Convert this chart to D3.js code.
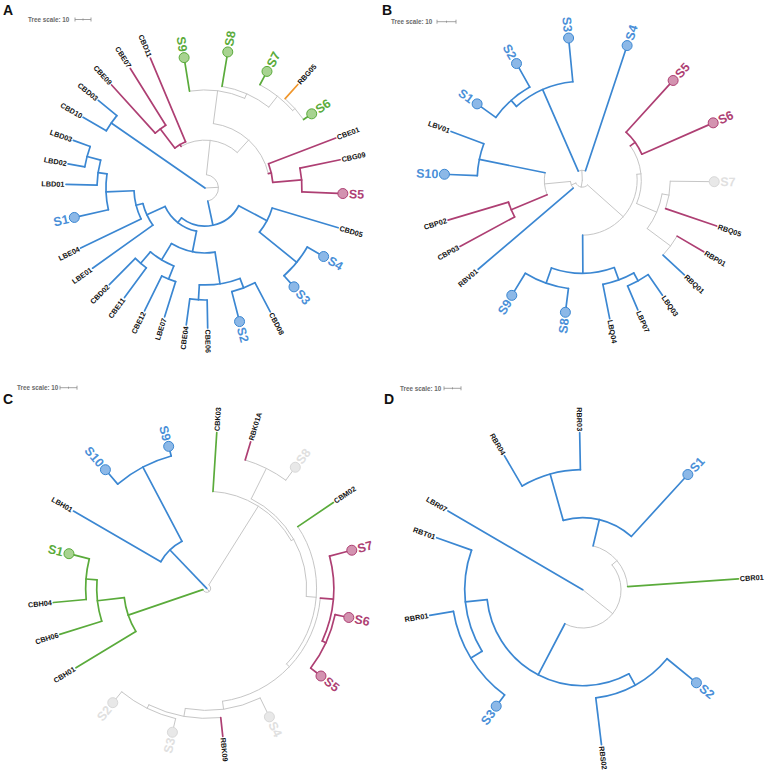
<!DOCTYPE html>
<html>
<head>
<meta charset="utf-8">
<script src="https://cdn.jsdelivr.net/npm/d3@7"></script>
<style>
  body { margin: 0; background: #fff; }
  svg { display: block; }
  text { font-family: "Liberation Sans", Arial, sans-serif; }
</style>
</head>
<body>
<svg></svg>
<script>
let width = 767;
let height = 773;

// ---- panel A : nodes, parent, distance from root (tree units), clade colour key
const aNode   = ["rootA","K","CBD10","CBD03","Rp","T2","M4","M3","CBE09","CBE07","CBD11","T1","Gr","S9","G2","S8","G3","S7","G4","RBG05","S6","M1","CBE01","M2","CBG09","S5","B","B1","CBD05","B1b","S4","S3","B2","B2a","B2a1","Nss","CBD08","S2","Nee","CBE06","CBE04","Nf","Ngh","LBE07","CBE12","Nde","CBE11","CBD02","Na2","LBE01","Na","LBE04","Nb","S1","Nc","LBD01","Nl","LBD02","LBD03"];
const aParent = ["","rootA","K","K","rootA","Rp","T2","M4","M3","M3","M4","T2","T1","Gr","Gr","G2","G2","G3","G3","G4","G4","T1","M1","M1","M2","M2","Rp","B","B1","B1","B1b","B1b","B","B2","B2a","B2a1","Nss","Nss","B2a1","Nee","Nee","B2a","Nf","Ngh","Ngh","Nf","Nde","Nde","B2","Na2","Na2","Na","Na","Nb","Nb","Nc","Nc","Nl","Nl"];
const aDist   = [0,71.3,88.1,86.3,8.4,30,31.3,46.3,86.9,88.1,88.1,40.6,61.3,79.4,64.4,83.1,73.1,79.4,75,86.9,78.1,42.5,87.5,60.6,86.3,83.1,23.8,43.8,86.9,73.8,82.5,80,27.5,40.6,60.6,66.9,87.5,83.1,70,87.5,86.3,52.5,61.3,84.4,85.6,61.9,85,85,40,86.3,44.4,86.3,61.9,80.6,67.5,86.9,76.3,86.9,87.5];
const aClade  = "gbbbggmmmmmggngngngonmmmmmbbbbbbbbbbbbbbbbbbbbbbbbbbbbbbbbb".split("");
const aLeaf    = ["CBD10","CBD03","CBE09","CBE07","CBD11","S9","S8","S7","RBG05","S6","CBE01","CBG09","S5","CBD05","S4","S3","CBD08","S2","CBE06","CBE04","LBE07","CBE12","CBE11","CBD02","LBE01","LBE04","S1","LBD01","LBD02","LBD03"];
const aLeafDeg = [300.1,309.4,317.8,328,337.2,350.9,369.5,388,401.9,415.2,429.1,438.2,452.3,466.6,480,498,512.2,525.5,538.9,547.8,557.4,566.2,576.3,584.7,594.5,604.2,617.3,631.5,640,649.9];

// ---- panel B
const bNode   = ["rootB","Z1","P","Q","S1","S2","S3","S4","Z2","X3","X1","Mg","S5","S6","X2","X2a","S7","RBQ05","X2b","RBP01","RBQ01","BB","LBQ","LPQ","LBQ03","LBP07","LBQ04","Ss","S8","S9","Z3","RBV01","W","CBP","CBP03","CBP02","V","S10","LBV01"];
const bParent = ["","rootB","Z1","P","Q","Q","P","Z1","rootB","Z2","X3","X1","Mg","Mg","X1","X2","X2a","X2a","X2","X2b","X2b","X3","BB","LBQ","LPQ","LPQ","LBQ","BB","Ss","Ss","Z2","Z3","Z3","W","CBP","CBP","W","V","V"];
const bDist   = [0,5.3,52.1,56.3,65.8,67.9,72.6,72.1,3.7,28.9,31.1,34.2,68.4,72.6,42.6,46.3,66.8,74.7,57.9,74.2,73.2,48.9,55.8,60.5,73.7,74.2,74.2,57.4,67.4,68.4,6.3,72.1,20,40.5,73.2,73.7,55.3,70,73.7];
const bClade  = "ggbbbbbbgggmmmgglmgmbbbbbbbbbbgbgmmmbbb".split("");
const bLeaf    = ["S1","S2","S3","S4","S5","S6","S7","RBQ05","RBP01","RBQ01","LBQ03","LBP07","LBQ04","S8","S9","RBV01","CBP03","CBP02","S10","LBV01"];
const bLeafDeg = [306,330.6,354.5,378.4,402.3,426.3,450.6,468.8,480.5,492.8,505.1,516.8,528.8,547.3,571.5,589.5,601.6,613.5,632.5,650.4];

// ---- panel C
const cNode   = ["rootC","Bl","LBH01","Bs","S10","S9","C0","Gc","CBH01","Gb","CBH06","Ga","CBH04","S1","Rg","CBK03","Rh","Rk","RBK01A","S8","Ri","CBM02","Rj","Mc","S7","Mm","S6","S5","Rb","S4","Rb2","RBK09","Rb3","S3","S2"];
const cParent = ["","rootC","Bl","Bl","Bs","Bs","rootC","C0","Gc","Gc","Gb","Gb","Ga","Ga","C0","Rg","Rg","Rh","Rk","Rk","Rh","Ri","Ri","Rj","Mc","Mc","Mm","Mm","Rj","Rb","Rb","Rb2","Rb2","Rb3","Rb3"];
const cDist   = [0,31.2,90.6,80.6,88.8,83.5,2.4,48.8,90,64.7,90.6,71.2,90.6,80.6,57.1,91.8,58.8,78.8,90,85.3,64.7,90,67.1,74.7,85.3,77.1,82.4,81.8,71.8,81.2,76.5,87.6,78.8,84.1,84.1];
const cClade  = "gbbbbbgnnnnnnngnggmlgngmmmmmglgmgll".split("");
const cLeaf    = ["CBK03","RBK01A","S8","CBM02","S7","S6","S5","S4","RBK09","S3","S2","CBH01","CBH06","CBH04","S1","LBH01","S10","S9"];
const cLeafDeg = [3.7,16.7,36.2,55.9,75.3,101.6,127.5,154,173.8,193.4,219.4,238.7,252.6,264.7,284.1,300.1,319.5,345];

// ---- panel D
const dNode   = ["rootD","Dx","Dc","Ds","Dr","RBR04","RBR03","S1","CBR01","Db","Ds2","S2","RBS02","Dl2","Dsr","S3","RBR01","RBT01","LBR07"];
const dParent = ["","rootD","Dx","Dc","Ds","Dr","Dr","Ds","Dc","Dx","Db","Ds2","Ds2","Db","Dl2","Dsr","Dsr","Dl2","rootD"];
const dDist   = [0,22.6,26.5,42.4,70.6,91.2,92.4,88.8,91.8,56.5,64.1,83.5,91.8,69.4,77.1,82.4,91.2,91.2,91.8];
const dClade  = "gggbbbbbnbbbbbbbbbb".split("");
const dLeaf    = ["RBR04","RBR03","S1","CBR01","S2","RBS02","S3","RBR01","RBT01","LBR07"];
const dLeafDeg = [329.7,358.9,402.4,446,489.3,533.1,576.6,620.5,649.6,660.3];

let svg = d3.select("svg")
            .attr("width", width)
            .attr("height", height);

svg.append("rect").attr("width", width).attr("height", height).attr("fill", "#fff");

let keys = ["g","l","b","m","n","o"];
let branchCol = d3.scaleOrdinal().domain(keys)
                  .range(["#c6c6c6","#c6c6c6","#3b87d2","#ae3f73","#5aab3b","#f0962b"]);
let labelCol  = d3.scaleOrdinal().domain(keys)
                  .range(["#e0e0e0","#e0e0e0","#4a8fd8","#ae3f73","#5aab3b","#f0962b"]);
let dotFill   = d3.scaleOrdinal().domain(keys)
                  .range(["#e8e8e8","#e8e8e8","#8cb8e7","#d393b0","#a8d391","#f7c48a"]);
let dotLine   = d3.scaleOrdinal().domain(keys)
                  .range(["#d8d8d8","#d8d8d8","#3b87d2","#ae3f73","#5aab3b","#f0962b"]);

let panels = [
  { tag: "A", tx: 3,   ty: 15,  cx: 205,   cy: 188,   unit: 16,   sx: 28,  sbx: 75,  sy: 19.5,
    tree: [aNode, aParent, aDist, aClade, aLeaf, aLeafDeg] },
  { tag: "B", tx: 382, ty: 15,  cx: 582.3, cy: 180.3, unit: 19,   sx: 391, sbx: 437, sy: 21.7,
    tree: [bNode, bParent, bDist, bClade, bLeaf, bLeafDeg] },
  { tag: "C", tx: 3,   ty: 404, cx: 206.7, cy: 588.3, unit: 17,   sx: 17,  sbx: 60,  sy: 387.7,
    tree: [cNode, cParent, cDist, cClade, cLeaf, cLeafDeg] },
  { tag: "D", tx: 384, ty: 404, cx: 582.7, cy: 589.7, unit: 17,   sx: 400, sbx: 444, sy: 388.3,
    tree: [dNode, dParent, dDist, dClade, dLeaf, dLeafDeg] }
];

let angle = d3.scaleLinear().domain([0, 360]).range([0, 2 * Math.PI]);

function drawTree(p) {
  let [nodes, parents, dist, clade, leaves, leafDeg] = p.tree;
  let rows = nodes.map((id, i) => ({ id: id, parent: parents[i] || null, dist: dist[i], clade: clade[i] }));
  let root = d3.stratify().id(d => d.id).parentId(d => d.parent)(rows);
  let degOf = new Map(leaves.map((n, i) => [n, leafDeg[i]]));

  // leaves take their bearing, inner nodes sit midway over their children
  root.eachAfter(n => {
    if (!n.children) {
      n.deg = degOf.get(n.id);
    } else {
      let a = n.children.map(c => c.deg);
      n.lo = d3.min(a);
      n.hi = d3.max(a);
      n.deg = (n.lo + n.hi) / 2;
    }
  });

  let rScale = d3.scaleLinear().domain([0, 10]).range([0, p.unit]);
  let pt = (deg, r) => [r * Math.sin(angle(deg)), -r * Math.cos(angle(deg))];

  let g = svg.append("g").attr("transform", "translate(" + p.cx + "," + p.cy + ")");
  let branches = g.append("g").attr("fill", "none").attr("stroke-linecap", "round");

  let all = root.descendants();
  let grey = all.filter(n => n.data.clade === "g" || n.data.clade === "l");
  let colour = all.filter(n => !(n.data.clade === "g" || n.data.clade === "l"));

  [grey, colour].forEach(list => {
    list.forEach(n => {
      let col = branchCol(n.data.clade);
      let w = (n.data.clade === "g" || n.data.clade === "l") ? 1 : 1.7;
      if (n.parent) {
        let a = pt(n.deg, rScale(n.parent.data.dist));
        let b = pt(n.deg, rScale(n.data.dist));
        branches.append("line")
          .attr("x1", a[0]).attr("y1", a[1])
          .attr("x2", b[0]).attr("y2", b[1])
          .attr("stroke", col).attr("stroke-width", w);
      }
      if (n.children) {
        let path = d3.path();
        path.arc(0, 0, rScale(n.data.dist), angle(n.lo) - Math.PI / 2, angle(n.hi) - Math.PI / 2);
        branches.append("path")
          .attr("d", path.toString())
          .attr("stroke", col).attr("stroke-width", w);
      }
    });
  });

  // leaf symbols and labels
  root.leaves().forEach(n => {
    let deg = ((n.deg % 360) + 360) % 360;
    let right = deg < 180;
    let isS = /^S\d+$/.test(n.id);
    let rt = rScale(n.data.dist);
    if (isS) {
      let c = pt(n.deg, rt + 5);
      g.append("circle")
        .attr("cx", c[0]).attr("cy", c[1]).attr("r", 5)
        .attr("fill", dotFill(n.data.clade))
        .attr("stroke", dotLine(n.data.clade))
        .attr("stroke-width", 1);
    }
    let off = isS ? rt + 11 : rt + 1.5;
    g.append("text")
      .attr("transform", "rotate(" + (deg - 90) + ") translate(" + off + ",0)" + (right ? "" : " rotate(180)"))
      .attr("text-anchor", right ? "start" : "end")
      .attr("dy", "0.35em")
      .attr("font-size", isS ? 12.5 : 7.3)
      .attr("font-weight", "bold")
      .attr("fill", isS ? labelCol(n.data.clade) : "#111")
      .text(n.id);
  });

  // tree scale
  svg.append("text")
     .attr("x", p.sx).attr("y", p.sy + 2.2)
     .attr("font-size", 6.3)
     .attr("font-weight", "bold")
     .attr("fill", "#6a6a6a")
     .text("Tree scale: 10");
  let bar = svg.append("g").attr("stroke", "#8a8a8a").attr("stroke-width", 0.8);
  let x0 = p.sbx, x1 = p.sbx + rScale(10);
  bar.append("line").attr("x1", x0).attr("x2", x1).attr("y1", p.sy).attr("y2", p.sy);
  [x0, (x0 + x1) / 2, x1].forEach((x, i) => {
    let h = i === 1 ? 1 : 2;
    bar.append("line").attr("x1", x).attr("x2", x).attr("y1", p.sy - h).attr("y2", p.sy + h);
  });

  svg.append("text")
     .attr("x", p.tx).attr("y", p.ty)
     .attr("font-size", 14)
     .attr("font-weight", "bold")
     .attr("fill", "#111")
     .text(p.tag);
}

panels.forEach(drawTree);
</script>
</body>
</html>
